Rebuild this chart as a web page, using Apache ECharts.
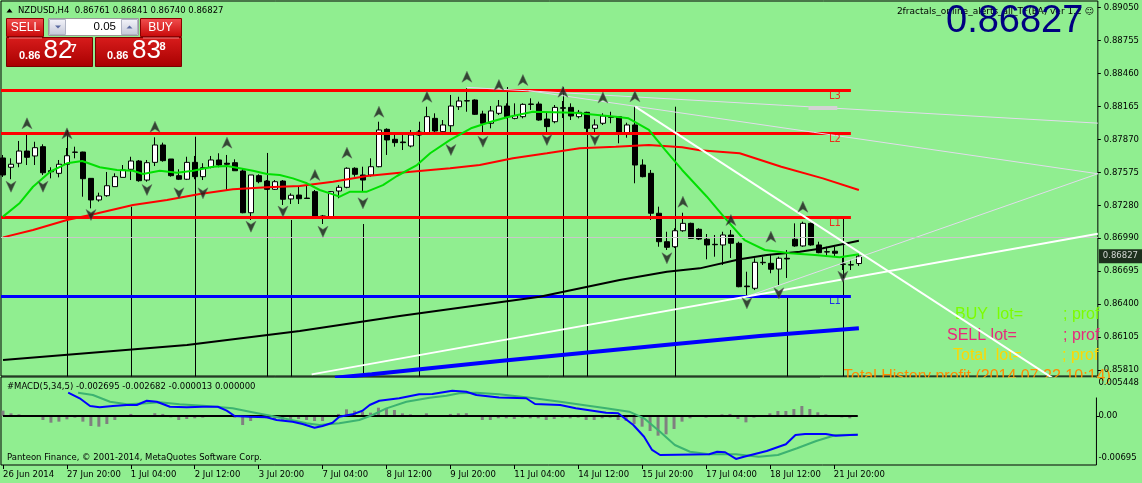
<!DOCTYPE html>
<html><head><meta charset="utf-8">
<script src="https://cdn.jsdelivr.net/npm/echarts@6/dist/echarts.min.js"></script>
<style>html,body{margin:0;padding:0;background:#90EE90;}#c{width:1142px;height:483px;}</style>
</head><body><div id="c"></div>
<script>
// ---------- DATA ----------
const symbolName = 'NZDUSD,H4';
const timeTickIdx = [0,8,16,24,32,40,48,56,64,72,80,88,96,104];
const timeLabels = ['26 Jun 2014','27 Jun 20:00','1 Jul 04:00','2 Jul 12:00','3 Jul 20:00','7 Jul 04:00','8 Jul 12:00','9 Jul 20:00','11 Jul 04:00','14 Jul 12:00','15 Jul 20:00','17 Jul 04:00','18 Jul 12:00','21 Jul 20:00'];
const priceTicks = [0.89050,0.88755,0.88460,0.88165,0.87870,0.87575,0.87280,0.86990,0.86695,0.86400,0.86105,0.85810];
const macdTickVals = [0.00473, 0, -0.00602];
const macdTickText = ['0.005448','0.00','-0.00695'];
const bidPrice = 0.86827;
const askPrice = 0.86838;
const lotSize = '0.05';
// candles: [open, close, low, high]
const ohlc = [
[0.87704,0.87552,0.87534,0.87731],[0.87621,0.87648,0.87514,0.87701],[0.87657,0.87766,0.87621,0.87856],[0.87766,0.87710,0.87641,0.87909],
[0.87722,0.87796,0.87641,0.87849],[0.87805,0.87572,0.87552,0.87826],[0.87590,0.87581,0.87522,0.87621],[0.87567,0.87648,0.87531,0.87686],
[0.87648,0.87724,0.87641,0.87793],[0.87754,0.87757,0.87701,0.87805],[0.87757,0.87519,0.87358,0.87760],[0.87522,0.87329,0.87254,0.87525],
[0.87329,0.87364,0.87314,0.87394],[0.87367,0.87456,0.87358,0.87579],[0.87448,0.87537,0.87448,0.87567],[0.87531,0.87597,0.87531,0.87641],
[0.87603,0.87677,0.87507,0.87715],[0.87677,0.87501,0.87492,0.87686],[0.87507,0.87662,0.87492,0.87686],[0.87665,0.87820,0.87632,0.87889],
[0.87820,0.87680,0.87671,0.87841],[0.87695,0.87546,0.87537,0.87695],[0.87546,0.87514,0.87507,0.87603],[0.87514,0.87665,0.87507,0.87715],
[0.87665,0.87537,0.87514,0.87722],[0.87537,0.87617,0.87507,0.87657],[0.87621,0.87686,0.87612,0.87722],[0.87686,0.87641,0.87621,0.87746],
[0.87657,0.87648,0.87418,0.87731],[0.87662,0.87590,0.87590,0.87692],[0.87588,0.87215,0.87210,0.87612],[0.87215,0.87552,0.87150,0.87552],
[0.87546,0.87492,0.87478,0.87558],[0.87498,0.87424,0.87418,0.87507],[0.87424,0.87492,0.87418,0.87507],[0.87498,0.87335,0.87284,0.87507],
[0.87338,0.87371,0.87293,0.87388],[0.87373,0.87340,0.87293,0.87454],[0.87346,0.87342,0.87338,0.87454],[0.87403,0.87174,0.87165,0.87418],
[0.87186,0.87174,0.87114,0.87195],[0.87180,0.87403,0.87174,0.87409],[0.87409,0.87442,0.87344,0.87462],[0.87442,0.87612,0.87433,0.87621],
[0.87612,0.87558,0.87537,0.87621],[0.87552,0.87507,0.87403,0.87626],[0.87552,0.87626,0.87537,0.87701],[0.87626,0.87954,0.87621,0.88028],
[0.87960,0.87865,0.87731,0.87969],[0.87871,0.87841,0.87805,0.87930],[0.87847,0.87841,0.87775,0.87909],[0.87811,0.87909,0.87799,0.87954],
[0.87909,0.87936,0.87900,0.87954],[0.87930,0.88073,0.87924,0.88162],[0.88058,0.87945,0.87924,0.88103],[0.87939,0.87999,0.87909,0.88043],
[0.87992,0.88168,0.87924,0.88267],[0.88162,0.88213,0.88133,0.88251],[0.88213,0.88216,0.88117,0.88327],[0.88222,0.88094,0.88088,0.88228],
[0.88097,0.88014,0.87924,0.88126],[0.88014,0.88124,0.87969,0.88168],[0.88103,0.88168,0.88088,0.88222],[0.88168,0.88073,0.88058,0.88192],
[0.88058,0.88082,0.88049,0.88192],[0.88073,0.88183,0.88058,0.88192],[0.88186,0.88183,0.88133,0.88237],[0.88186,0.88043,0.88037,0.88207],
[0.88052,0.87984,0.87924,0.88112],[0.88028,0.88156,0.88014,0.88177],[0.88153,0.88148,0.88061,0.88213],[0.88156,0.88079,0.88043,0.88192],
[0.88073,0.88112,0.88058,0.88133],[0.88112,0.87969,0.87924,0.88117],[0.87969,0.87999,0.87924,0.88049],[0.88014,0.88079,0.87999,0.88103],
[0.88073,0.88067,0.88014,0.88117],[0.88073,0.87924,0.87835,0.88079],[0.87918,0.87999,0.87885,0.88019],[0.87999,0.87641,0.87478,0.88162],
[0.87641,0.87537,0.87531,0.87692],[0.87567,0.87210,0.87150,0.87597],[0.87210,0.86956,0.86911,0.87269],[0.86956,0.86906,0.86882,0.87045],
[0.86911,0.87054,0.86900,0.87076],[0.87054,0.87120,0.87045,0.87215],[0.87120,0.86986,0.86980,0.87126],[0.87067,0.86980,0.86971,0.87076],
[0.86978,0.86927,0.86799,0.87025],[0.86933,0.86929,0.86822,0.87016],[0.86927,0.87016,0.86748,0.87045],[0.87016,0.86942,0.86811,0.87061],
[0.86942,0.86554,0.86549,0.86956],[0.86560,0.86554,0.86462,0.86688],[0.86540,0.86772,0.86524,0.86808],[0.86768,0.86772,0.86748,0.86822],
[0.86763,0.86710,0.86674,0.86837],[0.86712,0.86808,0.86569,0.86822],[0.86808,0.86802,0.86632,0.86882],[0.86978,0.86918,0.86911,0.87120],
[0.86918,0.87120,0.86911,0.87135],[0.87120,0.86927,0.86920,0.87126],[0.86927,0.86858,0.86853,0.86956],[0.86864,0.86867,0.86828,0.86911],
[0.86871,0.86853,0.86822,0.86911],[0.86757,0.86754,0.86703,0.86811],[0.86748,0.86751,0.86703,0.86793],[0.86761,0.86827,0.86740,0.86841]
];
// moving averages: [barIndex, price]
const maFast = [[0,0.87180],[2.1,0.87302],[3.75,0.87447],[5.9,0.87581],[8,0.87656],[9.9,0.87677],[12.1,0.87621],[14.25,0.87597],[16.25,0.87590],[17.5,0.87561],[19.6,0.87590],[21.75,0.87572],[23.75,0.87590],[26.25,0.87626],[28,0.87632],[29.6,0.87612],[31.25,0.87590],[33,0.87561],[34.6,0.87552],[36.25,0.87522],[38,0.87478],[39.6,0.87418],[41.25,0.87379],[42.1,0.87358],[43.4,0.87403],[45.5,0.87403],[47.5,0.87462],[49.25,0.87543],[51.75,0.87641],[53.4,0.87746],[55.9,0.87865],[58.5,0.87969],[61,0.88028],[63,0.88068],[66.25,0.88117],[71.4,0.88108],[76.6,0.88073],[78.2,0.88058],[80.75,0.87954],[82.8,0.87775],[84.9,0.87597],[88,0.87358],[90.1,0.87180],[92.7,0.86971],[95.25,0.86882],[98.4,0.86853],[101.5,0.86837],[104.6,0.86817],[107,0.86843]];
const maSlow = [[0,0.86995],[3.75,0.87061],[8,0.87150],[10.9,0.87195],[16.25,0.87284],[20.5,0.87329],[24.6,0.87382],[28.75,0.87424],[33,0.87442],[37.1,0.87454],[41.25,0.87492],[45.5,0.87543],[49.6,0.87572],[55.9,0.87612],[59.6,0.87641],[63.75,0.87701],[68,0.87746],[72.1,0.87790],[76.6,0.87805],[80.75,0.87820],[84.9,0.87799],[87.1,0.87773],[92.1,0.87746],[97.3,0.87626],[102.5,0.87522],[107,0.87418]];
const maLong = [[0,0.85899],[23,0.86033],[37.1,0.86158],[49.6,0.86292],[67.1,0.86465],[77.1,0.86614],[83,0.86688],[87.1,0.86718],[92.1,0.86799],[95.5,0.86837],[99.6,0.86867],[102.5,0.86897],[107,0.86965]];
const blueTrend = [[41.5,0.85740],[46.1,0.85772],[62.1,0.85890],[82.75,0.86033],[94.6,0.86114],[107,0.86183]];
// horizontal levels
const redLevels = [0.88308,0.87924,0.87174];
const redLevelNames = ['L3','L2','L1'];
const blueLevel = 0.86465;
const blueLevelName = 'L1';
const levelEndIdx = 106;
const levelLabelIdx = 104;
// vertical lines [barIndex, startPrice]
const separators = [[8,0.87954],[16,0.87269],[24,0.87894],[33,0.87749],[36,0.87150],[45,0.87114],[52,0.88028],[63,0.88338],[70,0.88338],[73,0.88106],[84,0.88162],[98,0.86465],[105,0.87180]];
// trend lines [[idx,price],[idx,price]]
const thinLines = [[[57.95,0.88335],[136.875,0.88015]],[[65.7,0.88305],[136.875,0.87563]],[[92.1,0.86444],[136.875,0.87563]]];
const whiteLines = [[[79.04,0.88162],[136.875,0.85475]],[[38.59,0.85771],[136.875,0.87028]]];
const grayMark = [[100.7,0.88150],[104.3,0.88150]];
// fractal arrows [barIndex, price]
const fractalUp = [[3,0.88014],[8,0.87924],[19,0.87983],[28,0.87841],[39,0.87552],[43,0.87751],[47,0.88117],[53,0.88251],[58,0.88430],[62,0.88356],[65,0.88401],[70,0.88296],[75,0.88244],[79,0.88255],[85,0.87313],[91,0.87150],[96,0.87001],[100,0.87269]];
const fractalDown = [[1,0.87447],[5,0.87447],[11,0.87195],[18,0.87418],[22,0.87388],[25,0.87388],[31,0.87090],[35,0.87225],[40,0.87045],[45,0.87299],[56,0.87775],[60,0.87849],[68,0.87865],[74,0.87865],[83,0.86808],[93,0.86406],[97,0.86495],[105,0.86643]];
// MACD(5,34,5)
const macdHist = [0.00077,0.00038,0.00024,0.00005,0.00005,-0.00057,-0.00096,-0.00081,-0.00048,-0.00024,-0.00081,-0.00143,-0.00153,-0.00115,-0.00057,0.00005,0.0003,-0.0001,0.00003,0.0004,0.0003,-0.0002,-0.00057,-0.00043,-0.00033,-0.00024,-0.00005,0.00003,-0.00003,-0.00024,-0.00129,-0.00072,-0.00024,-0.00033,-0.00043,-0.00057,-0.00057,-0.00043,-0.00057,-0.00072,-0.00072,-0.0001,0.0003,0.00096,0.00076,0.00062,0.00048,0.00119,0.0011,0.00086,0.00038,0.00024,0.00003,0.00038,0.00003,0.00003,0.0003,0.00038,0.0004,0.00003,-0.00057,-0.00057,-0.00033,-0.00033,-0.00043,-0.00024,-0.00033,-0.00033,-0.00057,-0.00043,-0.00024,-0.00033,-0.00024,-0.00057,-0.00057,-0.00033,-0.00024,-0.00057,-0.00072,-0.00115,-0.00153,-0.00215,-0.00282,-0.00263,-0.00186,-0.00081,-0.00033,-0.00003,-0.00024,0.00003,0.00024,0.0003,-0.00043,-0.00091,-0.00024,0.00003,0.00038,0.00072,0.00072,0.001,0.00143,0.001,0.00053,0.00024,0.00003,-0.0002,-0.00033,-0.000013];
const macdMain = [[8.16,0.00334],[9.6,0.00254],[10.9,0.00143],[12.1,0.00125],[13.75,0.00143],[15.5,0.00158],[16.75,0.00158],[18,0.00219],[19.25,0.00205],[20.9,0.00133],[23,0.00125],[25,0.00133],[26.9,0.00133],[28,0.00076],[29,0],[30.9,-0.0001],[33,-0.00019],[34.25,-0.00057],[36.25,-0.00082],[37.5,-0.00115],[39,-0.00168],[40,-0.00143],[41.25,-0.00096],[42.1,-0.0001],[43.75,0.00024],[45,0.00076],[45.9,0.00158],[47.1,0.00219],[49.6,0.00254],[52.1,0.00311],[53.75,0.00315],[56.25,0.00363],[58,0.00348],[59.25,0.00301],[62.1,0.00265],[65.5,0.00254],[66.6,0.00172],[69.75,0.00158],[71.7,0.0011],[75.5,0.00047],[77,0.00039],[78.9,-0.00129],[80.25,-0.00297],[81.25,-0.00487],[82.25,-0.00559],[88.4,-0.00549],[89.4,-0.00512],[90.4,-0.0052],[91.75,-0.00616],[92.75,-0.00584],[95.6,-0.00502],[98,-0.00406],[99.2,-0.00272],[100.4,-0.00258],[103,-0.00258],[104.25,-0.00282],[106,-0.00272],[107,-0.002695]];
const macdSignal = [[9.4,0.00334],[11.25,0.00301],[13.4,0.00205],[15.5,0.00168],[18,0.00182],[19.6,0.00196],[22.1,0.00168],[25.5,0.00143],[28.75,0.0011],[30.9,0.00062],[33,0.00014],[35.5,-0.00043],[38,-0.00105],[39.6,-0.00129],[42.1,-0.00105],[44.6,-0.00057],[46.25,0.00014],[48,0.0011],[50.5,0.00205],[53.4,0.00262],[55.5,0.00291],[57.1,0.00325],[59.25,0.00334],[62.1,0.00311],[66,0.00262],[69.75,0.00205],[72.6,0.00158],[75.5,0.0011],[78.4,0.00062],[80.25,-0.00033],[82.25,-0.00225],[84.1,-0.00416],[86,-0.00512],[88.4,-0.00549],[91.75,-0.00549],[94.6,-0.00584],[97,-0.00559],[99.4,-0.00463],[101.8,-0.00358],[104.25,-0.00272],[107,-0.002682]];

// ---------- CHART ----------
const FONT = 'DejaVu Sans';
const last = ohlc[ohlc.length - 1];
const f5 = v => v.toFixed(5);
const chart = echarts.init(document.getElementById('c'), null, {renderer: 'canvas'});
const BOTTOM_P = 0.8570;
const X_MIN = -0.25, X_MAX = 136.875;

function segData(list) { return list.map(s => ({coords: s})); }
function splitPrice(p) { const s = p.toFixed(5); return [s.slice(0,4), s.slice(4,6), s.slice(6)]; }
const bidParts = splitPrice(bidPrice), askParts = splitPrice(askPrice);
const lastMacd = macdMain[macdMain.length-1][1], lastSig = macdSignal[macdSignal.length-1][1];
const macdHeader = '#MACD(5,34,5) ' + lastMacd.toFixed(6) + ' ' + lastSig.toFixed(6) + ' ' + macdHist[macdHist.length-1].toFixed(6) + ' 0.000000';

const upPath = 'path://M5,0 L10,12 L5,8.5 L0,12 Z';
const downPath = 'path://M0,0 L5,3.5 L10,0 L5,12 Z';
const redGrad = (a, b) => ({type: 'linear', x: 0, y: 0, x2: 0, y2: 1, colorStops: [{offset: 0, color: a}, {offset: 1, color: b}]});

const option = {
  animation: false,
  backgroundColor: '#90EE90',
  grid: [
    {left: 1, top: 1, width: 1097, height: 375, show: true, borderColor: '#000', borderWidth: 1, backgroundColor: 'transparent'},
    {left: 1, top: 377, width: 1097, height: 88, show: true, borderColor: '#000', borderWidth: 1, backgroundColor: 'transparent'}
  ],
  xAxis: [
    {gridIndex: 0, type: 'value', min: X_MIN, max: X_MAX, show: false},
    {gridIndex: 1, type: 'value', min: X_MIN, max: X_MAX,
      axisLine: {show: false, onZero: false}, splitLine: {show: false},
      axisTick: {show: true, customValues: timeTickIdx, length: 4, lineStyle: {color: '#000'}},
      axisLabel: {customValues: timeTickIdx, formatter: v => timeLabels[timeTickIdx.indexOf(Math.round(v))] || '',
        align: 'left', margin: 5, fontFamily: FONT, fontSize: 8.5, color: '#000'}}
  ],
  yAxis: [
    {gridIndex: 0, type: 'value', position: 'right', min: 0.857564, max: 0.891063,
      axisLine: {show: false, onZero: false}, splitLine: {show: false},
      axisTick: {show: true, customValues: priceTicks, length: 3, lineStyle: {color: '#000'}},
      axisLabel: {customValues: priceTicks, formatter: v => v.toFixed(5), margin: 6, fontFamily: FONT, fontSize: 8.5, color: '#000'}},
    {gridIndex: 1, type: 'value', position: 'right', min: -0.0070251, max: 0.0055914,
      axisLine: {show: false, onZero: false}, splitLine: {show: false},
      axisTick: {show: true, customValues: [0], length: 3, lineStyle: {color: '#000'}},
      axisLabel: {customValues: macdTickVals, formatter: v => macdTickText[macdTickVals.findIndex(t => Math.abs(t - v) < 1e-6)] || '', margin: 2, fontFamily: FONT, fontSize: 8.5, color: '#000'}}
  ],
  series: [
    {type: 'lines', coordinateSystem: 'cartesian2d', xAxisIndex: 0, yAxisIndex: 0, z: 1, silent: true,
      data: segData(separators.map(s => [[s[0], s[1]], [s[0], BOTTOM_P]])),
      lineStyle: {color: '#000', width: 1, opacity: 1}},
    {type: 'candlestick', xAxisIndex: 0, yAxisIndex: 0, z: 2, barWidth: 5,
      data: ohlc.map((c, i) => [i, c[0], c[1], c[2], c[3]]),
      encode: {x: 0, y: [1, 2, 3, 4]},
      itemStyle: {color: '#fff', color0: '#000', borderColor: '#000', borderColor0: '#000', borderWidth: 1},
      markLine: {silent: true, symbol: ['none', 'none'], data: [{yAxis: bidPrice}],
        lineStyle: {color: '#c8c8c8', type: 'solid', width: 1}, label: {show: false}}},
    // current price tag on the axis
    {type: 'scatter', xAxisIndex: 0, yAxisIndex: 0, z: 7, clip: false, symbolSize: 0, silent: true,
      data: [[X_MAX, bidPrice]],
      label: {show: true, position: 'right', distance: 1, formatter: f5(bidPrice), color: '#fff', backgroundColor: '#000',
        padding: [3, 4, 2, 4], fontFamily: FONT, fontSize: 8.5}},
    {type: 'lines', coordinateSystem: 'cartesian2d', xAxisIndex: 0, yAxisIndex: 0, z: 3, silent: true,
      data: segData(redLevels.map(p => [[X_MIN, p], [levelEndIdx, p]])),
      lineStyle: {color: '#ff0000', width: 3, opacity: 1}},
    {type: 'lines', coordinateSystem: 'cartesian2d', xAxisIndex: 0, yAxisIndex: 0, z: 3, silent: true,
      data: segData([[[X_MIN, blueLevel], [levelEndIdx, blueLevel]]]),
      lineStyle: {color: '#0000ff', width: 3, opacity: 1}},
    {type: 'line', xAxisIndex: 0, yAxisIndex: 0, z: 3, data: maSlow, showSymbol: false, symbol: 'none',
      lineStyle: {color: '#ff0000', width: 2}},
    {type: 'line', xAxisIndex: 0, yAxisIndex: 0, z: 3, data: maLong, showSymbol: false, symbol: 'none',
      lineStyle: {color: '#000000', width: 2}},
    {type: 'line', xAxisIndex: 0, yAxisIndex: 0, z: 3, data: blueTrend, showSymbol: false, symbol: 'none',
      lineStyle: {color: '#0000ff', width: 4}},
    {type: 'line', xAxisIndex: 0, yAxisIndex: 0, z: 4, data: maFast, showSymbol: false, symbol: 'none',
      lineStyle: {color: '#00e000', width: 2}},
    {type: 'lines', coordinateSystem: 'cartesian2d', xAxisIndex: 0, yAxisIndex: 0, z: 4, silent: true,
      data: segData(thinLines), lineStyle: {color: '#e2dcec', width: 1, opacity: 1}},
    {type: 'lines', coordinateSystem: 'cartesian2d', xAxisIndex: 0, yAxisIndex: 0, z: 4, silent: true,
      data: segData([grayMark]), lineStyle: {color: '#d3d3d3', width: 4, opacity: 1}},
    {type: 'lines', coordinateSystem: 'cartesian2d', xAxisIndex: 0, yAxisIndex: 0, z: 5, silent: true,
      data: segData(whiteLines), lineStyle: {color: '#ffffff', width: 2, opacity: 1}},
    {type: 'scatter', xAxisIndex: 0, yAxisIndex: 0, z: 6, symbol: upPath, symbolSize: [10, 11], data: fractalUp,
      itemStyle: {color: '#1c1c1c', borderColor: '#5a6a5a', borderWidth: 0.6}},
    {type: 'scatter', xAxisIndex: 0, yAxisIndex: 0, z: 6, symbol: downPath, symbolSize: [10, 11], data: fractalDown,
      itemStyle: {color: '#1c1c1c', borderColor: '#5a6a5a', borderWidth: 0.6}},
    {type: 'scatter', xAxisIndex: 0, yAxisIndex: 0, z: 6, symbolSize: 0,
      data: redLevels.map((p, k) => ({name: redLevelNames[k], value: [levelLabelIdx, p]})),
      label: {show: true, position: 'bottom', distance: 1, formatter: '{b}', color: '#ff0000', fontFamily: FONT, fontSize: 10}},
    {type: 'scatter', xAxisIndex: 0, yAxisIndex: 0, z: 6, symbolSize: 0,
      data: [{name: blueLevelName, value: [levelLabelIdx, blueLevel]}],
      label: {show: true, position: 'bottom', distance: 0, formatter: '{b}', color: '#0000ff', fontFamily: FONT, fontSize: 10}},
    // MACD
    {type: 'bar', xAxisIndex: 1, yAxisIndex: 1, z: 2, barWidth: 3, data: macdHist.map((v, i) => [i, v]),
      itemStyle: {color: '#808080'}},
    {type: 'line', xAxisIndex: 1, yAxisIndex: 1, z: 3, data: [[0, 0], [ohlc.length - 1, 0]], showSymbol: false, symbol: 'none',
      lineStyle: {color: '#000', width: 2}},
    {type: 'line', xAxisIndex: 1, yAxisIndex: 1, z: 4, data: macdSignal, showSymbol: false, symbol: 'none',
      lineStyle: {color: '#3cb371', width: 2}},
    {type: 'line', xAxisIndex: 1, yAxisIndex: 1, z: 5, data: macdMain, showSymbol: false, symbol: 'none',
      lineStyle: {color: '#0000ff', width: 2}}
  ],
  graphic: [
    // history text, lower half hidden by the indicator panel
    {type: 'text', z: 0, x: 843, y: 376.5, style: {text: 'Total History profit (2014.07.22 10:14)', font: '16px "Liberation Sans"', fill: '#ff8c00', verticalAlign: 'middle'}},
    {type: 'rect', z: 1, shape: {x: 820, y: 377.5, width: 277.5, height: 20}, style: {fill: '#90EE90'}},
    // header
    {type: 'polygon', shape: {points: [[6.5, 12.5], [12.5, 12.5], [9.5, 8.5]]}, style: {fill: '#000'}},
    {type: 'text', x: 18, y: 10.5, style: {text: symbolName + '  ' + f5(last[0]) + ' ' + f5(last[3]) + ' ' + f5(last[2]) + ' ' + f5(last[1]), font: '8.5px "DejaVu Sans"', fill: '#000', verticalAlign: 'middle'}},
    // trade panel
    {type: 'rect', shape: {x: 6.5, y: 18.5, width: 37, height: 18}, style: {fill: redGrad('#f25050', '#c80808'), stroke: '#8a0000'}},
    {type: 'rect', shape: {x: 140.5, y: 18.5, width: 41, height: 18}, style: {fill: redGrad('#f25050', '#c80808'), stroke: '#8a0000'}},
    {type: 'rect', shape: {x: 48.5, y: 18.5, width: 90, height: 17}, style: {fill: '#ffffff', stroke: '#9a9a9a'}},
    {type: 'rect', shape: {x: 49.5, y: 19.5, width: 16, height: 15}, style: {fill: redGrad('#f4f4fa', '#c4c8d8'), stroke: '#b0b4c4'}},
    {type: 'rect', shape: {x: 121.5, y: 19.5, width: 16, height: 15}, style: {fill: redGrad('#f4f4fa', '#c4c8d8'), stroke: '#b0b4c4'}},
    {type: 'polygon', shape: {points: [[55, 25.5], [61, 25.5], [58, 28.5]]}, style: {fill: '#5a6aa0'}},
    {type: 'polygon', shape: {points: [[126.5, 28.5], [132.5, 28.5], [129.5, 25.5]]}, style: {fill: '#5a6aa0'}},
    {type: 'text', x: 116, y: 27, style: {text: lotSize, font: '11.5px "Liberation Sans"', fill: '#000', align: 'right', verticalAlign: 'middle'}},
    {type: 'text', x: 25.5, y: 27.5, style: {text: 'SELL', font: '12px "Liberation Sans Narrow", "Liberation Sans"', fill: '#fff', align: 'center', verticalAlign: 'middle'}},
    {type: 'text', x: 160.5, y: 27.5, style: {text: 'BUY', font: '12px "Liberation Sans Narrow", "Liberation Sans"', fill: '#fff', align: 'center', verticalAlign: 'middle'}},
    {type: 'rect', shape: {x: 6.5, y: 37.5, width: 86, height: 29}, style: {fill: redGrad('#d81c1c', '#a80000'), stroke: '#7a0000'}},
    {type: 'rect', shape: {x: 95.5, y: 37.5, width: 86, height: 29}, style: {fill: redGrad('#d81c1c', '#a80000'), stroke: '#7a0000'}},
    {type: 'line', shape: {x1: 9, y1: 38, x2: 42, y2: 38}, style: {stroke: '#f08080', lineWidth: 1}},
    {type: 'line', shape: {x1: 143, y1: 38, x2: 179, y2: 38}, style: {stroke: '#f08080', lineWidth: 1}},
    {type: 'text', x: 19, y: 55.5, style: {text: bidParts[0], font: 'bold 11px "Liberation Sans"', fill: '#fff', verticalAlign: 'middle'}},
    {type: 'text', x: 43.5, y: 50.5, style: {text: bidParts[1], font: '26px "Liberation Sans Narrow", "Liberation Sans"', fill: '#fff', verticalAlign: 'middle'}},
    {type: 'text', x: 70.5, y: 48.5, style: {text: bidParts[2], font: 'bold 11px "Liberation Sans"', fill: '#fff', verticalAlign: 'middle'}},
    {type: 'text', x: 107, y: 55.5, style: {text: askParts[0], font: 'bold 11px "Liberation Sans"', fill: '#fff', verticalAlign: 'middle'}},
    {type: 'text', x: 132, y: 50.5, style: {text: askParts[1], font: '26px "Liberation Sans Narrow", "Liberation Sans"', fill: '#fff', verticalAlign: 'middle'}},
    {type: 'text', x: 159.5, y: 46.5, style: {text: askParts[2], font: 'bold 11px "Liberation Sans"', fill: '#fff', verticalAlign: 'middle'}},
    // top-right
    {type: 'text', x: 1094, y: 12, style: {text: '2fractals_online_alerts_all_TF(EA) ver 1.2 \u263A', font: '9px "DejaVu Sans"', fill: '#000', align: 'right', verticalAlign: 'middle'}},
    {type: 'text', x: 946, y: 22, style: {text: f5(bidPrice), font: '38px "Liberation Sans"', fill: '#000080', verticalAlign: 'middle'}},
    // account info texts
    {type: 'text', x: 955, y: 315, style: {text: 'BUY  lot=', font: '16px "Liberation Sans"', fill: '#7cfc00', verticalAlign: 'middle'}},
    {type: 'text', x: 1063, y: 315, style: {text: '; prof', font: '16px "Liberation Sans"', fill: '#7cfc00', verticalAlign: 'middle'}},
    {type: 'text', x: 947, y: 336, style: {text: 'SELL lot=', font: '16px "Liberation Sans"', fill: '#e8287c', verticalAlign: 'middle'}},
    {type: 'text', x: 1063, y: 336, style: {text: '; prof', font: '16px "Liberation Sans"', fill: '#e8287c', verticalAlign: 'middle'}},
    {type: 'text', x: 953, y: 356, style: {text: 'Total  lot=', font: '16px "Liberation Sans"', fill: '#ffd700', verticalAlign: 'middle'}},
    {type: 'text', x: 1062, y: 356, style: {text: '; prof', font: '16px "Liberation Sans"', fill: '#ffd700', verticalAlign: 'middle'}},
    // MACD header and copyright
    {type: 'text', x: 7, y: 387, style: {text: macdHeader, font: '8.5px "DejaVu Sans"', fill: '#000', verticalAlign: 'middle'}},
    {type: 'text', x: 7, y: 457.5, style: {text: 'Panteon Finance, \u00A9 2001-2014, MetaQuotes Software Corp.', font: '8.5px "DejaVu Sans"', fill: '#000', verticalAlign: 'middle'}}
  ]
};
chart.setOption(option);
</script></body></html>
